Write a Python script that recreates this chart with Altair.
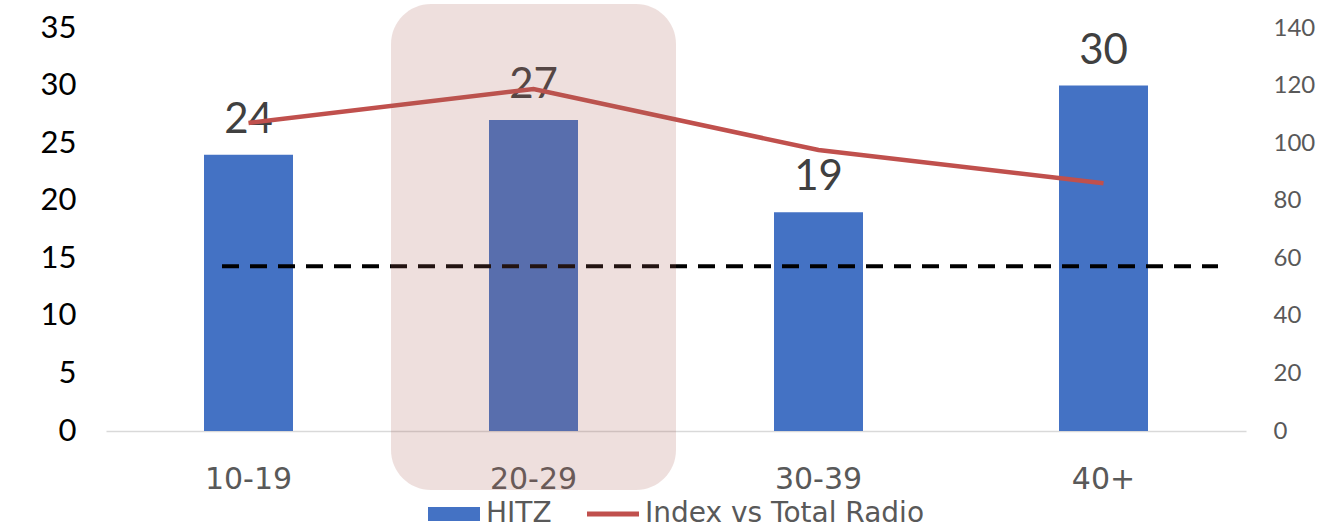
import altair as alt
import pandas as pd

categories = ["10-19", "20-29", "30-39", "40+"]
hitz = [24, 27, 19, 30]
index_vs_total = [107, 118.8, 97.6, 86.1]
reference_level = [14.3]
highlight_cat = ["20-29"]
highlight_top = [148.3]
highlight_bottom = [-20.5]
series_names = ["HITZ", "Index vs Total Radio"]
series_colors = ["#4472C4", "#C0504D"]

bars_df = pd.DataFrame({"age": categories, "hitz": hitz})
line_df = pd.DataFrame({"age": categories, "index": index_vs_total})
ref_df = pd.DataFrame({"ref": reference_level})
hl_df = pd.DataFrame({"age": highlight_cat, "top": highlight_top, "bottom": highlight_bottom})
leg_df = pd.DataFrame({"series": series_names, "v": [None, None]})

x_enc = alt.X("age:N", sort=categories,
              scale=alt.Scale(domain=categories, paddingInner=0, paddingOuter=0),
              axis=alt.Axis(title=None, labelAngle=0, ticks=False, domainColor="#D9D9D9",
                            domainWidth=1.5, labelFont="DejaVu Sans", labelFontSize=30,
                            labelColor="#595959", labelBaseline="alphabetic", labelPadding=57))

left_scale = alt.Scale(domain=[0, 35], nice=False, zero=True)
left_axis = alt.Axis(title=None, orient="left", values=list(range(0, 36, 5)), grid=False,
                     domain=False, ticks=False, labelFont="Lato", labelFontSize=31,
                     labelColor="#000000", labelPadding=30)

bars = alt.Chart(bars_df).mark_bar(size=89, color="#4472C4").encode(
    x=x_enc, y=alt.Y("hitz:Q", scale=left_scale, axis=left_axis))

labels = alt.Chart(bars_df).mark_text(font="Lato", fontSize=42, color="#404040",
                                      baseline="alphabetic", dy=-22).encode(
    x=alt.X("age:N", sort=categories), y=alt.Y("hitz:Q", scale=left_scale), text="hitz:Q")

ref_rule = alt.Chart(ref_df).mark_rule(color="#000000", strokeWidth=4, strokeDash=[17, 11]).encode(
    y=alt.Y("ref:Q", scale=left_scale), x=alt.value(116), x2=alt.value(1112))

left = alt.layer(bars, labels, ref_rule)

right_scale = alt.Scale(domain=[0, 140], nice=False, zero=True)
right_axis = alt.Axis(title=None, orient="right", values=list(range(0, 141, 20)), grid=False,
                      domain=False, ticks=False, labelFont="Lato", labelFontSize=24,
                      labelColor="#595959", labelPadding=27)

line = alt.Chart(line_df).mark_line(color="#C0504D", strokeWidth=4.5).encode(
    x=alt.X("age:N", sort=categories), y=alt.Y("index:Q", scale=right_scale, axis=right_axis))

legend_pts = alt.Chart(leg_df).mark_point(filled=True, opacity=1).encode(
    x=alt.value(0),
    y=alt.Y("v:Q", scale=right_scale),
    color=alt.Color("series:N", scale=alt.Scale(domain=series_names, range=series_colors),
                    legend=alt.Legend(title=None, orient="none", direction="horizontal",
                                      legendX=322, legendY=460, labelFont="DejaVu Sans",
                                      labelFontSize=28, labelColor="#595959", labelOffset=6,
                                      labelLimit=600, columnPadding=35, padding=0,
                                      symbolSize=2704, symbolStrokeWidth=0)),
    shape=alt.Shape("series:N", scale=alt.Scale(
        domain=series_names,
        range=["M-1,-0.27H1V0.27H-1Z", "M-1,-0.1H1V0.1H-1Z"]), legend=None),
)

overlay = alt.Chart(hl_df).mark_rect(color="rgb(169,93,83)", opacity=0.2, cornerRadius=40).encode(
    x=alt.X("age:N", sort=categories),
    y=alt.Y("top:Q", scale=right_scale),
    y2="bottom:Q")

right = alt.layer(line, legend_pts, overlay)

chart = alt.layer(left, right).resolve_scale(y="independent").properties(
    width=1140, height=403,
    autosize=alt.AutoSizeParams(type="none"),
    padding={"left": 106, "top": 28, "right": 98, "bottom": 100},
    background="white",
).configure_view(stroke=None)

chart.save("out.html", embed_options={"renderer": "svg", "actions": False})
